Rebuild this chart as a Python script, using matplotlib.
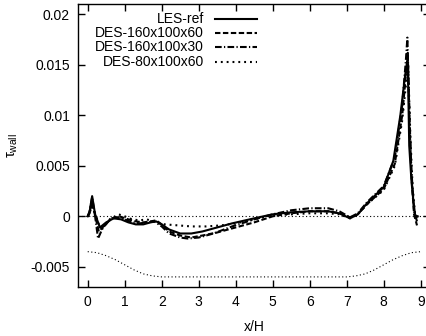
import matplotlib
matplotlib.use("Agg")
import matplotlib.pyplot as plt

plt.rcParams['font.family'] = ['Liberation Sans', 'DejaVu Sans']
plt.rcParams['mathtext.fontset'] = 'custom'
plt.rcParams['mathtext.rm'] = 'Liberation Sans'
plt.rcParams['mathtext.it'] = 'Liberation Sans'

labels = ["LES-ref", "DES-160x100x60", "DES-160x100x30", "DES-80x100x60"]

x_les = [0, 0.05, 0.12, 0.2, 0.33, 0.5, 0.7, 0.9, 1.1, 1.3, 1.5, 1.7, 1.85, 2.0, 2.2, 2.5,
         2.8, 3.1, 3.5, 3.9, 4.5, 5.0, 5.5, 6.0, 6.5, 6.8, 7.09, 7.3, 7.55, 8.0, 8.26, 8.45,
         8.58, 8.65, 8.69, 8.75, 8.8, 8.85, 8.92]
y_les = [0, 0.0004, 0.0020, 0.0002, -0.0011, -0.0006, -0.0002, -0.0003, -0.0006, -0.0008,
         -0.0008, -0.0006, -0.0005, -0.0008, -0.0013, -0.0017, -0.0017, -0.0015, -0.0011,
         -0.0007, -0.0002, 0.0002, 0.0004, 0.0005, 0.0005, 0.0003, -0.0002, 0.0002, 0.0013,
         0.0029, 0.0055, 0.0100, 0.0140, 0.0155, 0.0070, 0.0035, 0.0016, 0.0001, 0.0000]

x_d60 = [0, 0.05, 0.1, 0.18, 0.3, 0.45, 0.65, 0.85, 1.1, 1.3, 1.5, 1.7, 1.85, 2.0, 2.2, 2.5,
         2.8, 3.1, 3.5, 3.9, 4.5, 5.0, 5.5, 6.0, 6.5, 6.8, 7.09, 7.3, 7.55, 8.0, 8.3, 8.5,
         8.6, 8.65, 8.7, 8.75, 8.82, 8.9]
y_d60 = [0, 0.0003, 0.0014, 0.0004, -0.0015, -0.0009, -0.0002, 0.0000, -0.0003, -0.0005,
         -0.0006, -0.0005, -0.0004, -0.0008, -0.0015, -0.0019, -0.0021, -0.0019, -0.0016,
         -0.0012, -0.0006, 0.0000, 0.0003, 0.0005, 0.0005, 0.0003, -0.0001, 0.0002, 0.0012,
         0.0027, 0.0052, 0.0100, 0.0140, 0.0162, 0.0090, 0.0040, 0.0002, -0.0009]

x_d30 = [0, 0.05, 0.12, 0.2, 0.28, 0.4, 0.6, 0.8, 1.0, 1.2, 1.4, 1.6, 1.8, 2.0, 2.2, 2.5,
         2.7, 3.0, 3.4, 3.9, 4.5, 5.0, 5.5, 6.0, 6.5, 6.8, 7.09, 7.3, 7.55, 8.0, 8.3, 8.5,
         8.6, 8.64, 8.7, 8.75, 8.82, 8.9]
y_d30 = [0, 0.0005, 0.0019, 0.0000, -0.0022, -0.0012, -0.0003, -0.0001, -0.0003, -0.0006,
         -0.0007, -0.0006, -0.0005, -0.0010, -0.0017, -0.0021, -0.0022, -0.0021, -0.0017,
         -0.0010, -0.0003, 0.0002, 0.0006, 0.0008, 0.0008, 0.0005, -0.0001, 0.0003, 0.0014,
         0.0030, 0.0058, 0.0110, 0.0155, 0.0177, 0.0095, 0.0045, 0.0005, -0.0005]

x_d80 = [0, 0.05, 0.1, 0.2, 0.3, 0.4, 0.6, 0.83, 1.0, 1.2, 1.4, 1.6, 1.9, 2.1, 2.45, 2.8,
         3.2, 3.6, 4.0, 4.5, 5.0, 5.5, 6.0, 6.5, 6.8, 7.09, 7.3, 7.55, 8.0, 8.3, 8.5, 8.6,
         8.66, 8.72, 8.78, 8.85, 8.9]
y_d80 = [0, 0.0002, 0.0010, 0.0003, -0.0008, -0.0012, -0.0003, 0.0002, 0.0000, -0.0003,
         -0.0004, -0.0003, -0.0007, -0.0008, -0.0009, -0.0010, -0.0010, -0.0009, -0.0007,
         -0.0003, 0.0001, 0.0002, 0.0003, 0.0003, 0.0002, -0.0002, 0.0002, 0.0012, 0.0026,
         0.0050, 0.0095, 0.0130, 0.0150, 0.0080, 0.0030, 0.0001, -0.0002]

# hill geometry outline (scaled)
x_hill = [0, 0.25, 0.5, 0.75, 1.0, 1.25, 1.5, 1.75, 2.0, 7.0, 7.25, 7.5, 7.75, 8.0, 8.25,
          8.5, 8.75, 9.0]
y_hill = [-0.0035, -0.0036, -0.0039, -0.0043, -0.0048, -0.0053, -0.0057, -0.0059, -0.0060,
          -0.0060, -0.0059, -0.0057, -0.0053, -0.0048, -0.0043, -0.0039, -0.0036, -0.0035]

xticks = [0, 1, 2, 3, 4, 5, 6, 7, 8, 9]
yticks = [-0.005, 0, 0.005, 0.01, 0.015, 0.02]
ytick_labels = ["-0.005", "0", "0.005", "0.01", "0.015", "0.02"]

W, H = 426, 336
fig = plt.figure(figsize=(W / 100, H / 100), dpi=100)
left_px, right_px, top_px, bot_px = 78.45, 429.95, 4.3, 287.0
ax = fig.add_axes([left_px / W, (H - bot_px) / H, (right_px - left_px) / W,
                   (bot_px - top_px) / H])

styles = [
    dict(linestyle='-'),
    dict(linestyle=(0, (2.6, 1.2))),
    dict(linestyle=(0, (3.2, 1.1, 0.6, 1.1))),
    dict(linestyle=(0, (0.9, 1.9))),
]
series = [(x_les, y_les), (x_d60, y_d60), (x_d30, y_d30), (x_d80, y_d80)]
lw = 1.5
for (xs, ys), st in zip(series, styles):
    ax.plot(xs, ys, color='black', lw=lw, **st)

ax.axhline(0, color='black', lw=0.8, linestyle=(0, (1, 2.2)))
ax.plot(x_hill, y_hill, color='black', lw=0.8, linestyle=(0, (1, 2.2)))

ax.set_xlim(-0.25, 9.25)
ax.set_ylim(-0.007, 0.021)
ax.set_xticks(xticks)
ax.set_xticklabels([str(v) for v in xticks])
ax.set_yticks(yticks)
ax.set_yticklabels(ytick_labels)
ax.tick_params(direction='in', length=5, width=1.0, top=True, right=True,
               labelsize=10, pad=6)
for sp in ax.spines.values():
    sp.set_linewidth(1.0)

ax.set_xlabel('x/H', fontsize=10)
ax.xaxis.set_label_coords(0.5, -0.115)
ax.set_ylabel(r'$\tau_{\mathrm{wall}}$', fontsize=10.5, rotation=90)
ax.yaxis.set_label_coords(-0.165, 0.5)

# legend (gnuplot style: right-aligned text, sample line to the right)
rows = [0.9469, 0.8984, 0.8479, 0.7970]
for lab, st, yy in zip(labels, styles, rows):
    ax.text(0.357, yy, lab, transform=ax.transAxes, ha='right', va='center', fontsize=10)
    ax.plot([0.3885, 0.508], [yy, yy], transform=ax.transAxes, color='black', lw=lw, **st)

fig.savefig('out.png', dpi=100)
